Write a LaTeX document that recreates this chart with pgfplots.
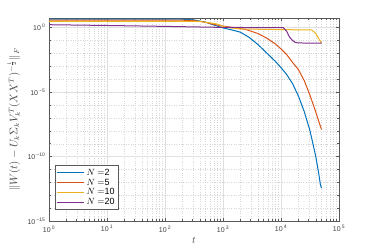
\documentclass[border=0pt]{standalone}
\usepackage{fontspec}
\setmainfont{Liberation Sans}
\usepackage{pgfplots}
\pgfplotsset{compat=1.18}
\definecolor{mblue}{rgb}{0,0.447,0.741}
\definecolor{mred}{rgb}{0.85,0.325,0.098}
\definecolor{myellow}{rgb}{0.929,0.694,0.125}
\definecolor{mpurple}{rgb}{0.494,0.184,0.556}
\begin{document}
\begin{tikzpicture}
\begin{axis}[
  scale only axis, width=290pt, height=203pt,
  xmode=log, ymode=log,
  xmin=1, xmax=1e5, ymin=1e-15, ymax=5.623,
  xtick={1,10,100,1000,10000,100000},
  xticklabels={10\,\textsuperscript{0},10\,\textsuperscript{1},10\,\textsuperscript{2},10\,\textsuperscript{3},10\,\textsuperscript{4},10\,\textsuperscript{5}},
  ytick={1e-15,1e-10,1e-5,1},
  yticklabels={10\,\textsuperscript{−15},10\,\textsuperscript{−10},10\,\textsuperscript{−5},10\,\textsuperscript{0}},
  minor xtick={2,3,4,5,6,7,8,9,20,30,40,50,60,70,80,90,200,300,400,500,600,700,800,900,2000,3000,4000,5000,6000,7000,8000,9000,20000,30000,40000,50000,60000,70000,80000,90000},
  minor ytick={1e-14,1e-13,1e-12,1e-11,1e-9,1e-8,1e-7,1e-6,1e-4,1e-3,1e-2,1e-1},
  grid=both,
  major grid style={black!12, line width=0.4pt},
  minor grid style={black!16, dotted, line width=0.3pt},
  tick align=inside,
  axis line style={black!65, line width=0.5pt},
  tick style={black!65, line width=0.4pt},
  major tick length=3pt, minor tick length=1.6pt,
  xticklabel style={font=\fontsize{7}{8}\selectfont, text=black!75, yshift=-1pt},
  yticklabel style={font=\fontsize{7}{8}\selectfont, text=black!75},
  xlabel={$t$},
  xlabel style={at={(axis description cs:0.5,-0.094)}, anchor=center, font=\fontsize{10}{11}\selectfont, text=black!75},
  ylabel={$\|W(t)-U_k\Sigma_kV_k^T(XX^T)^{-\frac{1}{2}}\|_F$},
  ylabel style={at={(axis description cs:-0.121,0.5)}, anchor=center, font=\fontsize{10.5}{12}\selectfont, text=black!75},
  legend style={at={(axis description cs:0.02,0.055)}, anchor=south west, font=\fontsize{9}{10}\selectfont, draw=black!65, fill=white, inner sep=1.5pt, row sep=-2pt, line width=0.5pt},
  legend cell align=left,
  legend image code/.code={\draw[#1] (0pt,0pt) -- (27pt,0pt);},
  every axis plot/.append style={line width=1pt},
]
\addplot[mblue] coordinates {
(1,4.677) (100,4.677) (199.5,4.571) (316.2,3.981) (501.2,2.630) (707.9,1.585)
(1000,0.955) (1413,0.676) (1995,0.447) (2818,0.178) (3981,0.0501) (5623,0.01122)
(7943,2.512e-3) (10000,7.94e-4) (12589,2.24e-4) (15849,4.47e-5) (19953,5.01e-6)
(25119,3.16e-7) (31623,1e-8) (39811,1e-10) (44668,5.01e-12) (47863,6.31e-13) (50000,3.55e-13)};
\addlegendentry{$N=$2}
\addplot[mred] coordinates {
(1,3.890) (199.5,3.802) (316.2,3.548) (501.2,2.630) (707.9,1.778) (1000,1.318)
(1585,1.0) (2512,0.708) (3981,0.355) (5623,0.1585) (7943,0.0562) (10000,0.0224)
(12589,7.94e-3) (15849,2.0e-3) (19953,5.62e-4) (25119,7.94e-5) (31623,5.62e-6)
(39811,2.82e-7) (44668,5.62e-8) (50000,1.26e-8)};
\addlegendentry{$N=$5}
\addplot[myellow] coordinates {
(1,3.020) (398.1,3.020) (631,2.239) (794.3,1.905) (1000,1.259) (1259,1.0)
(1995,0.794) (10000,0.708) (33884,0.661) (39811,0.355) (44668,0.1413) (50000,0.0631)};
\addlegendentry{$N=$10}
\addplot[mpurple] coordinates {
(1,1.698) (10,1.479) (100,1.259) (1000,1.047) (11000,1.0) (12589,0.501)
(14125,0.178) (15849,0.1) (17783,0.0708) (19953,0.0661) (25119,0.0640) (50000,0.0631)};
\addlegendentry{$N=$20}
\end{axis}
\pgfresetboundingbox
\path ([shift={(-49pt,-28pt)}]current axis.south west) rectangle ([shift={(35pt,18pt)}]current axis.north east);
\end{tikzpicture}
\end{document}
